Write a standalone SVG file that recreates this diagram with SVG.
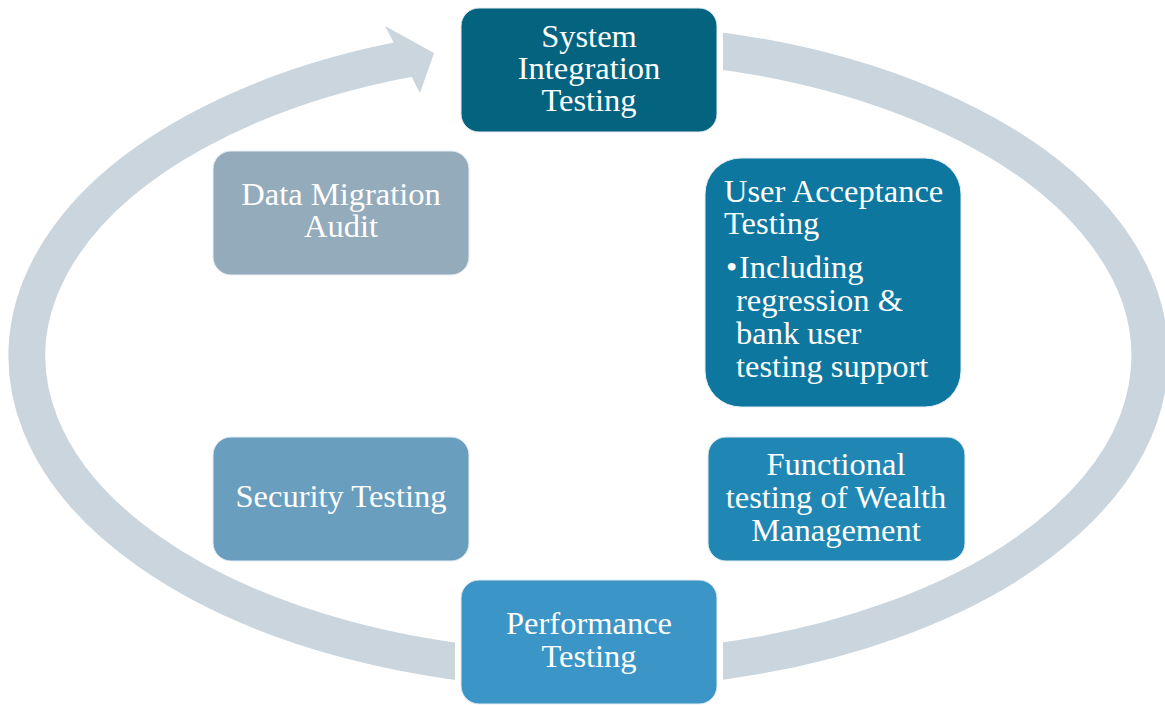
<svg xmlns="http://www.w3.org/2000/svg" width="1165" height="705" viewBox="0 0 1165 705">
<style>
.t{font-family:"Liberation Serif","Times New Roman",serif;font-size:32.5px;fill:#ffffff}
.c{text-anchor:middle}
.box{stroke:#e6edf2;stroke-width:1}
</style>
<rect width="1165" height="705" fill="#ffffff"/>
<g id="connectors">
<path d="M 410 58.3 A 561.5 314 0 1 0 700 48.3" fill="none" stroke="#cad5dd" stroke-width="37"/>
<polygon points="385,26 434,53 420,93" fill="#cad5dd"/>
<rect x="690" y="15" width="33" height="75" fill="#ffffff"/>
<rect x="455" y="620" width="268" height="80" fill="#ffffff"/>
</g>
<g id="sit">
<rect class="box" x="461" y="8" width="256" height="124" rx="18" fill="#04637f"/>
<text class="t c" x="589" y="47">System</text>
<text class="t c" x="589" y="79">Integration</text>
<text class="t c" x="589" y="111">Testing</text>
</g>
<g id="dma">
<rect class="box" x="213" y="151" width="256" height="124" rx="18" fill="#94abbc"/>
<text class="t c" x="341" y="205">Data Migration</text>
<text class="t c" x="341" y="237">Audit</text>
</g>
<g id="uat">
<rect class="box" x="705" y="158" width="256" height="249" rx="36" fill="#0d77a0"/>
<text class="t" x="724" y="202">User Acceptance</text>
<text class="t" x="724" y="234">Testing</text>
<text class="t" x="726" y="278">•</text>
<text class="t" x="739" y="278">Including</text>
<text class="t" x="736" y="311">regression &amp;</text>
<text class="t" x="736" y="344">bank user</text>
<text class="t" x="736" y="377">testing support</text>
</g>
<g id="sec">
<rect class="box" x="213" y="437" width="256" height="124" rx="18" fill="#6a9ebf"/>
<text class="t c" x="341" y="507">Security Testing</text>
</g>
<g id="func">
<rect class="box" x="708" y="437" width="257" height="124" rx="18" fill="#2087b5"/>
<text class="t c" x="836" y="475">Functional</text>
<text class="t c" x="836" y="508">testing of Wealth</text>
<text class="t c" x="836" y="541">Management</text>
</g>
<g id="perf">
<rect class="box" x="461" y="580" width="256" height="124" rx="18" fill="#3b95c6"/>
<text class="t c" x="589" y="634">Performance</text>
<text class="t c" x="589" y="667">Testing</text>
</g>
</svg>
